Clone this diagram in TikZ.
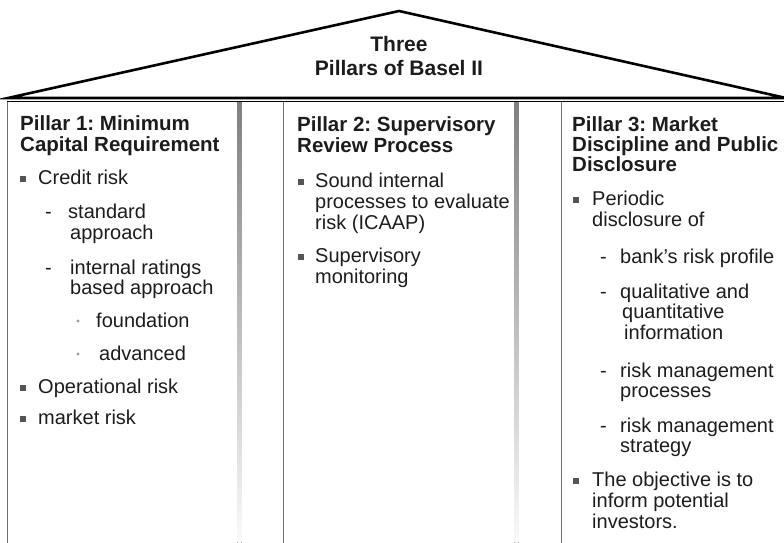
\documentclass[tikz,border=0pt]{standalone}
\usepackage{fontspec}
\setmainfont{Liberation Sans}
\frenchspacing
\definecolor{txt}{HTML}{1C1C1C}
\definecolor{bul}{HTML}{555555}
\definecolor{edge}{HTML}{707070}
\definecolor{shade}{HTML}{9A9A9A}
\tikzset{
  hd/.style={anchor=base west, inner sep=0pt, font=\fontsize{20.5}{21}\selectfont\bfseries, text=txt},
  tx/.style={anchor=base west, inner sep=0pt, font=\fontsize{20}{21}\selectfont, text=txt},
  ttl/.style={anchor=base, inner sep=0pt, font=\fontsize{21}{22}\selectfont\bfseries, text=txt},
  sq/.style={rectangle, fill=bul, inner sep=0pt, minimum size=6pt},
  dt/.style={circle, fill=shade, inner sep=0pt, minimum size=3.2pt},
}
\begin{document}
\begin{tikzpicture}[x=1pt,y=-1pt]
\useasboundingbox (0,0) rectangle (784,543);
% pillars
\draw[edge, line width=1pt] (7.5,101) -- (7.5,560);
\draw[edge, line width=1pt] (237,101) -- (237,560);
\fill[shade] (237.5,101) rectangle (241.5,560);
\draw[edge, line width=1pt] (283.5,101) -- (283.5,560);
\draw[edge, line width=1pt] (514,101) -- (514,560);
\fill[shade] (514.5,101) rectangle (518.5,560);
\draw[edge, line width=1pt] (561.5,101) -- (561.5,560);
\draw[shade, line width=1.6pt] (7,101.5) -- (790,101.5);
% roof
\coordinate (rl) at (8,98);
\coordinate (ra) at (399,11);
\coordinate (rr) at (786,98);
\draw[black, line width=2.6pt, line join=miter] (rl) -- (ra) -- (rr) -- cycle;
\node[ttl] (t1) at (399,52) {Three};
\node[ttl] (t2) at (399,75) {Pillars of Basel II};
% Pillar 1
\node[hd] (p1h1) at (20,130) {Pillar 1: Minimum};
\node[hd] (p1h2) at (20,151) {Capital Requirement};
\node[sq] (p1b1) at (23,179) {};
\node[tx] (p1a) at (38,184) {Credit risk};
\node[tx] (p1d1) at (45,218) {-};
\node[tx] (p1b) at (68,218) {standard};
\node[tx] (p1c) at (70,239) {approach};
\node[tx] (p1d2) at (45,274) {-};
\node[tx] (p1d) at (70,274) {internal ratings};
\node[tx] (p1e) at (70,294) {based approach};
\node[dt] (p1o1) at (78,321) {};
\node[tx] (p1f) at (96,327) {foundation};
\node[dt] (p1o2) at (78,354) {};
\node[tx] (p1g) at (99,360) {advanced};
\node[sq] (p1b2) at (23,388) {};
\node[tx] (p1h) at (38,393) {Operational risk};
\node[sq] (p1b3) at (23,419) {};
\node[tx] (p1i) at (38,424) {market risk};
% Pillar 2
\node[hd] (p2h1) at (297,131) {Pillar 2: Supervisory};
\node[hd] (p2h2) at (297,152) {Review Process};
\node[sq] (p2b1) at (301,182) {};
\node[tx] (p2a) at (315,187) {Sound internal};
\node[tx] (p2b) at (315,208) {processes to evaluate};
\node[tx] (p2c) at (315,229) {risk (ICAAP)};
\node[sq] (p2b2) at (301,257) {};
\node[tx] (p2d) at (315,262) {Supervisory};
\node[tx] (p2e) at (315,283) {monitoring};
% Pillar 3
\node[hd] (p3h1) at (572,131) {Pillar 3: Market};
\node[hd] (p3h2) at (572,151) {Discipline and Public};
\node[hd] (p3h3) at (572,171) {Disclosure};
\node[sq] (p3b1) at (576,200) {};
\node[tx] (p3a) at (592,205) {Periodic};
\node[tx] (p3b) at (592,226) {disclosure of};
\node[tx] (p3d1) at (600,263) {-};
\node[tx] (p3c) at (620,263) {bank’s risk profile};
\node[tx] (p3d2) at (600,298) {-};
\node[tx] (p3d) at (620,298) {qualitative and};
\node[tx] (p3e) at (622,318) {quantitative};
\node[tx] (p3f) at (624,339) {information};
\node[tx] (p3d3) at (600,377) {-};
\node[tx] (p3g) at (620,377) {risk management};
\node[tx] (p3h) at (620,397) {processes};
\node[tx] (p3d4) at (600,432) {-};
\node[tx] (p3i) at (620,432) {risk management};
\node[tx] (p3j) at (620,452) {strategy};
\node[sq] (p3b2) at (576,481) {};
\node[tx] (p3k) at (592,486) {The objective is to};
\node[tx] (p3l) at (592,507) {inform potential};
\node[tx] (p3m) at (592,528) {investors.};
\end{tikzpicture}
\end{document}
